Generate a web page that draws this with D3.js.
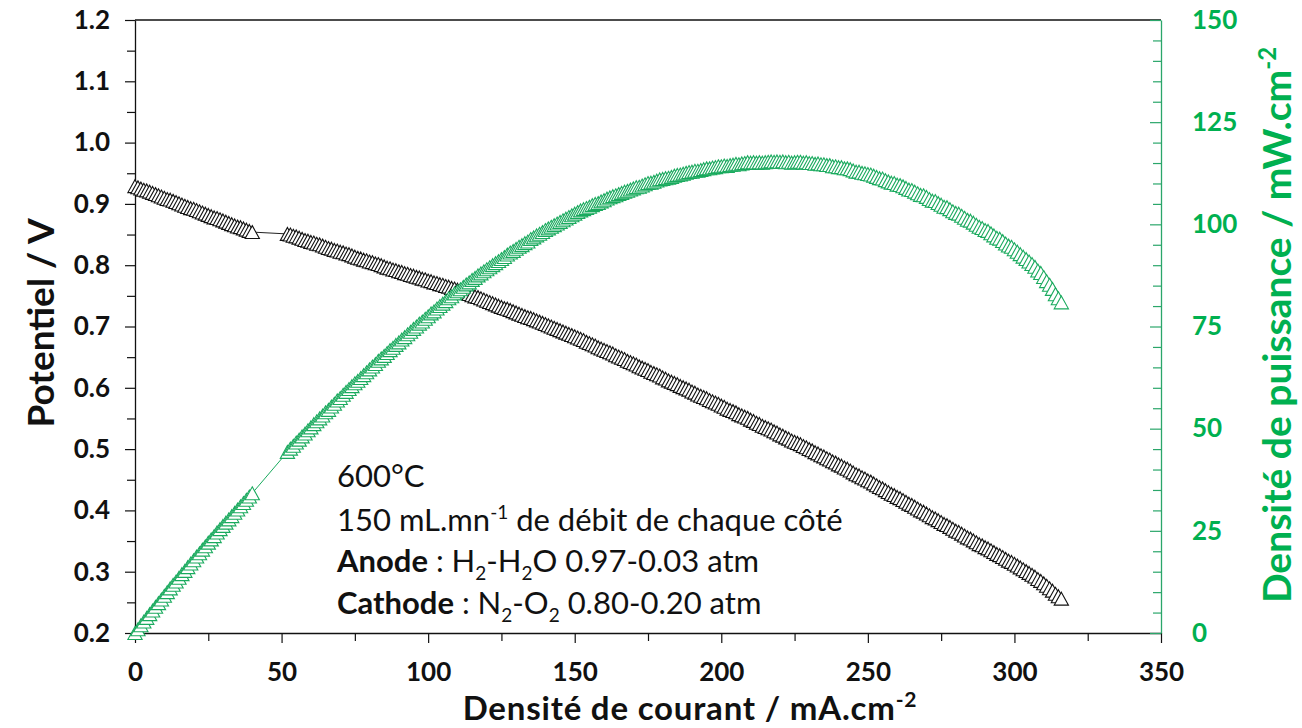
<!DOCTYPE html>
<html>
<head>
<meta charset="utf-8">
<script src="https://cdn.jsdelivr.net/npm/d3@7"></script>
<style>
  body { margin: 0; background: #fff; }
  svg { display: block; font-family: Lato, "Open Sans", sans-serif; }
</style>
</head>
<body>
<svg width="1302" height="728"></svg>
<script>
// current density (mA/cm2), two runs of points with a gap 40 -> 52
const current = [0,1,2,3,4,5,6,7,8,9,10,11,12,13,14,15,16,17,18,19,20,
  21,22,23,24,25,26,27,28,29,30,31,32,33,34,35,36,37,38,39,40,
  52,53,54,55,56,57,58,59,60,61,62,63,64,65,66,67,68,69,70,71,72,73,74,75,76,77,78,79,80,
  81,82,83,84,85,86,87,88,89,90,91,92,93,94,95,96,97,98,99,100,101,102,103,104,105,106,107,108,109,110,
  111,112,113,114,115,116,117,118,119,120,121,122,123,124,125,126,127,128,129,130,131,132,133,134,135,136,137,138,139,140,
  141,142,143,144,145,146,147,148,149,150,151,152,153,154,155,156,157,158,159,160,161,162,163,164,165,166,167,168,169,170,
  171,172,173,174,175,176,177,178,179,180,181,182,183,184,185,186,187,188,189,190,191,192,193,194,195,196,197,198,199,200,
  201,202,203,204,205,206,207,208,209,210,211,212,213,214,215,216,217,218,219,220,221,222,223,224,225,226,227,228,229,230,
  231,232,233,234,235,236,237,238,239,240,241,242,243,244,245,246,247,248,249,250,251,252,253,254,255,256,257,258,259,260,
  261,262,263,264,265,266,267,268,269,270,271,272,273,274,275,276,277,278,279,280,281,282,283,284,285,286,287,288,289,290,
  291,292,293,294,295,296,297,298,299,300,301,302,303,304,305,306,307,308,309,310,311,312,313,314,315,316]

// cell potential (V)
const potential = [0.929,0.927,0.925,0.923,0.922,0.920,0.918,0.916,0.914,0.912,0.910,
  0.908,0.907,0.905,0.903,0.901,0.899,0.897,0.895,0.893,0.892,0.890,0.888,0.886,0.884,0.882,0.880,0.878,0.877,0.875,0.873,
  0.871,0.869,0.867,0.865,0.863,0.862,0.860,0.858,0.856,0.854,
  0.851,0.850,0.848,0.847,0.845,0.843,0.841,0.840,0.838,0.837,0.835,0.834,0.832,0.830,0.828,0.827,0.825,0.824,0.822,
  0.821,0.819,0.818,0.816,0.814,0.812,0.811,0.809,0.808,0.806,
  0.805,0.803,0.802,0.800,0.798,0.796,0.795,0.793,0.792,0.790,0.789,0.787,0.786,0.784,0.783,0.781,0.780,0.778,0.777,0.775,
  0.774,0.772,0.771,0.769,0.768,0.766,0.765,0.763,0.762,0.760,
  0.758,0.756,0.755,0.753,0.751,0.749,0.748,0.746,0.744,0.742,0.740,0.738,0.736,0.734,0.732,0.730,0.729,0.727,0.725,0.723,
  0.721,0.719,0.717,0.715,0.714,0.712,0.710,0.708,0.706,0.704,
  0.702,0.700,0.698,0.696,0.694,0.692,0.690,0.688,0.686,0.684,0.682,0.680,0.678,0.675,0.673,0.671,0.669,0.666,0.664,0.662,
  0.660,0.658,0.656,0.653,0.651,0.649,0.647,0.644,0.642,0.640,
  0.638,0.635,0.633,0.631,0.629,0.626,0.624,0.622,0.620,0.617,0.615,0.612,0.610,0.608,0.606,0.603,0.601,0.599,0.597,0.594,
  0.592,0.589,0.587,0.585,0.583,0.580,0.578,0.576,0.574,0.571,
  0.569,0.566,0.564,0.562,0.560,0.557,0.555,0.553,0.551,0.548,0.546,0.543,0.541,0.538,0.536,0.534,0.532,0.529,0.527,0.524,
  0.522,0.519,0.517,0.514,0.512,0.510,0.508,0.505,0.503,0.500,
  0.498,0.495,0.493,0.490,0.488,0.485,0.483,0.480,0.478,0.475,0.473,0.470,0.468,0.465,0.462,0.459,0.457,0.454,0.452,0.449,
  0.447,0.444,0.441,0.438,0.436,0.433,0.430,0.427,0.425,0.422,
  0.420,0.417,0.414,0.411,0.409,0.406,0.403,0.400,0.398,0.395,0.392,0.389,0.387,0.384,0.381,0.378,0.376,0.373,0.370,0.367,
  0.365,0.362,0.359,0.356,0.354,0.351,0.348,0.345,0.343,0.340,
  0.338,0.335,0.332,0.329,0.327,0.324,0.321,0.318,0.316,0.313,0.310,0.307,0.304,0.301,0.298,0.295,0.292,0.288,0.285,0.281,
  0.277,0.273,0.269,0.264,0.260,0.256]

// power density (mW/cm2)
const power = [0,0.9,1.9,2.8,3.7,4.6,5.5,6.4,7.3,8.2,9.1,
  10.0,10.9,11.8,12.6,13.5,14.4,15.2,16.1,17.0,17.8,18.7,19.5,20.4,21.2,22.1,22.9,23.7,24.6,25.4,26.2,
  27.0,27.8,28.6,29.4,30.2,31.0,31.8,32.6,33.4,34.2,
  44.3,45.1,45.8,46.6,47.3,48.1,48.8,49.6,50.3,51.1,51.8,52.5,53.2,54.0,54.6,55.4,56.1,56.9,57.5,
  58.3,59.0,59.7,60.4,61.1,61.7,62.4,63.1,63.8,64.5,
  65.2,65.8,66.6,67.2,67.8,68.5,69.2,69.8,70.5,71.1,71.8,72.4,73.1,73.7,74.4,75.0,75.7,76.2,76.9,77.5,
  78.2,78.7,79.4,80.0,80.6,81.2,81.9,82.4,83.1,83.6,
  84.1,84.7,85.3,85.8,86.4,86.9,87.5,88.0,88.5,89.0,89.5,90.0,90.5,91.0,91.5,92.0,92.6,93.1,93.5,94.0,
  94.5,94.9,95.4,95.8,96.4,96.8,97.3,97.7,98.1,98.6,
  99.0,99.4,99.8,100.2,100.6,101.0,101.4,101.8,102.2,102.6,103.0,103.4,103.7,104.0,104.3,104.7,105.0,105.2,105.6,105.9,
  106.3,106.6,106.9,107.1,107.4,107.7,108.0,108.2,108.5,108.8,
  109.1,109.2,109.5,109.8,110.1,110.2,110.4,110.7,111.0,111.1,111.3,111.4,111.6,111.9,112.1,112.2,112.4,112.6,112.8,112.9,
  113.1,113.1,113.3,113.5,113.7,113.7,113.9,114.0,114.2,114.2,
  114.4,114.3,114.5,114.6,114.8,114.7,114.9,115.0,115.2,115.1,115.2,115.1,115.2,115.1,115.2,115.3,115.4,115.3,115.4,115.3,
  115.4,115.2,115.3,115.1,115.2,115.3,115.3,115.1,115.2,115.0,
  115.0,114.8,114.9,114.7,114.7,114.5,114.5,114.2,114.2,114.0,114.0,113.7,113.7,113.5,113.2,112.9,112.9,112.6,112.5,112.3,
  112.2,111.9,111.6,111.3,111.2,110.8,110.5,110.2,110.1,109.7,
  109.6,109.3,108.9,108.5,108.4,108.0,107.6,107.2,107.1,106.7,106.2,105.8,105.7,105.2,104.8,104.3,104.2,103.7,103.2,102.8,
  102.6,102.1,101.6,101.1,100.9,100.4,99.9,99.4,99.1,98.6,
  98.4,97.8,97.3,96.7,96.5,95.9,95.3,94.8,94.5,93.9,93.3,92.7,92.1,91.5,90.9,90.3,89.6,88.7,88.1,87.1,
  86.1,85.2,84.2,82.9,81.9,80.9]

const xTicks = [0,25,50,75,100,125,150,175,200,225,250,275,300,325,350]
const xLabels = [0,50,100,150,200,250,300,350]
const leftTicks = [0.2,0.25,0.3,0.35,0.4,0.45,0.5,0.55,0.6,0.65,0.7,0.75,0.8,0.85,0.9,0.95,1.0,1.05,1.1,1.15,1.2]
const leftLabels = [0.2,0.3,0.4,0.5,0.6,0.7,0.8,0.9,1.0,1.1,1.2]
const rightTicks = [0,5,10,15,20,25,30,35,40,45,50,55,60,65,70,75,80,85,90,95,100,105,110,115,120,125,130,135,140,145,150]
const rightLabels = [0,25,50,75,100,125,150]

let green = "#00B050"
let svg = d3.select("svg")

let mLeft = 135, mRight = 1161, mTop = 20, mBottom = 633

let x = d3.scaleLinear().domain([0, 350]).range([mLeft, mRight])
let yV = d3.scaleLinear().domain([0.2, 1.2]).range([mBottom, mTop])
let yP = d3.scaleLinear().domain([0, 150]).range([mBottom, mTop])

let isMajor = (list, d) => list.some(v => Math.abs(v - d) < 1e-6)

// frame top line
svg.append("line")
    .attr("x1", mLeft).attr("x2", mRight)
    .attr("y1", mTop).attr("y2", mTop)
    .style("stroke", "#111").style("stroke-width", 1.3)

// left axis
let gL = svg.append("g")
    .attr("transform", `translate(${mLeft},0)`)
    .call(d3.axisLeft(yV).tickValues(leftTicks).tickSizeOuter(0).tickPadding(19)
        .tickFormat(d => isMajor(leftLabels, d) ? d3.format(".1f")(d) : ""))
gL.selectAll(".tick line").attr("x2", d => isMajor(leftLabels, d) ? -10 : -8)

// bottom axis
let gB = svg.append("g")
    .attr("transform", `translate(0,${mBottom})`)
    .call(d3.axisBottom(x).tickValues(xTicks).tickSizeOuter(0)
        .tickFormat(d => xLabels.includes(d) ? d : ""))
gB.selectAll(".tick line").attr("y2", d => xLabels.includes(d) ? 10 : 8)
gB.selectAll(".tick text").attr("y", 48).attr("dy", null)

// right axis, ticks pointing inside
let gR = svg.append("g")
    .attr("transform", `translate(${mRight},0)`)
    .call(d3.axisRight(yP).tickValues(rightTicks).tickSizeOuter(0).tickSizeInner(-8).tickPadding(31)
        .tickFormat(d => rightLabels.includes(d) ? d : ""))
gR.selectAll(".tick line").attr("x2", d => rightLabels.includes(d) ? -11 : -8)

for (let g of [gL, gB]) {
    g.select(".domain").style("stroke", "#111").style("stroke-width", 1.3)
    g.selectAll(".tick line").style("stroke", "#111").style("stroke-width", 1.2)
    g.selectAll(".tick text").style("fill", "#111")
}
gR.select(".domain").style("stroke", "#2aa66a").style("stroke-width", 1.3)
gR.selectAll(".tick line").style("stroke", "#2aa66a").style("stroke-width", 1.2)
gR.selectAll(".tick text").style("fill", green)

svg.selectAll(".tick text")
    .style("font-size", "26px")
    .style("font-weight", "bold")
    .style("font-family", "Lato, sans-serif")

// open triangle marker like Excel's
let triangle = {
    draw(ctx, size) {
        let w = Math.sqrt(size) * 1.05, h = Math.sqrt(size) * 0.95
        ctx.moveTo(0, -h / 2)
        ctx.lineTo(w / 2, h / 2)
        ctx.lineTo(-w / 2, h / 2)
        ctx.closePath()
    }
}
let marker = d3.symbol().type(triangle).size(185)

let rows = current.map((c, i) => ({ c: c, v: potential[i], p: power[i] }))

// potential series
svg.append("path")
    .datum(rows)
    .attr("d", d3.line().x(d => x(d.c)).y(d => yV(d.v)))
    .style("fill", "none").style("stroke", "#222").style("stroke-width", 1)

svg.selectAll(".vpt")
    .data(rows)
    .join("path")
    .attr("class", "vpt")
    .attr("transform", d => `translate(${x(d.c)},${yV(d.v)})`)
    .attr("d", marker)
    .style("fill", "white")
    .style("stroke", "#111")
    .style("stroke-width", 1.1)

// power series
svg.append("path")
    .datum(rows)
    .attr("d", d3.line().x(d => x(d.c)).y(d => yP(d.p)))
    .style("fill", "none").style("stroke", "#1aaa5e").style("stroke-width", 1)

svg.selectAll(".ppt")
    .data(rows)
    .join("path")
    .attr("class", "ppt")
    .attr("transform", d => `translate(${x(d.c)},${yP(d.p)})`)
    .attr("d", marker)
    .style("fill", "white")
    .style("stroke", "#1aaa5e")
    .style("stroke-width", 1.1)

// axis titles
svg.append("text")
    .attr("transform", "translate(54,323) rotate(-90)")
    .attr("text-anchor", "middle")
    .style("font-size", "37px").style("font-weight", "bold").style("fill", "#111")
    .text("Potentiel / V")

let xt = svg.append("text")
    .attr("x", 690).attr("y", 720)
    .attr("text-anchor", "middle")
    .style("font-size", "33px").style("font-weight", "bold").style("fill", "#111")
    .style("letter-spacing", "0.8px")
xt.append("tspan").text("Densité de courant / mA.cm")
xt.append("tspan").attr("dy", -13).style("font-size", "21px").text("-2")

let rt = svg.append("text")
    .attr("transform", "translate(1291,325) rotate(-90)")
    .attr("text-anchor", "middle")
    .style("font-size", "39px").style("font-weight", "bold").style("fill", green)
rt.append("tspan").text("Densité de puissance / mW.cm")
rt.append("tspan").attr("dy", -15).style("font-size", "24px").text("-2")

// experimental conditions
let note = svg.append("g").style("font-size", "31px").style("fill", "#111")

note.append("text").attr("x", 337).attr("y", 487).text("600°C")

let l2 = note.append("text").attr("x", 337).attr("y", 531)
l2.append("tspan").text("150 mL.mn")
l2.append("tspan").attr("dy", -12).style("font-size", "19px").text("-1")
l2.append("tspan").attr("dy", 12).text(" de débit de chaque côté")

let l3 = note.append("text").attr("x", 337).attr("y", 572)
l3.append("tspan").style("font-weight", "bold").text("Anode")
l3.append("tspan").text(" : H")
l3.append("tspan").attr("dy", 8).style("font-size", "19px").text("2")
l3.append("tspan").attr("dy", -8).text("-H")
l3.append("tspan").attr("dy", 8).style("font-size", "19px").text("2")
l3.append("tspan").attr("dy", -8).text("O 0.97-0.03 atm")

let l4 = note.append("text").attr("x", 337).attr("y", 614)
l4.append("tspan").style("font-weight", "bold").text("Cathode")
l4.append("tspan").text(" : N")
l4.append("tspan").attr("dy", 8).style("font-size", "19px").text("2")
l4.append("tspan").attr("dy", -8).text("-O")
l4.append("tspan").attr("dy", 8).style("font-size", "19px").text("2")
l4.append("tspan").attr("dy", -8).text(" 0.80-0.20 atm")
</script>
</body>
</html>
